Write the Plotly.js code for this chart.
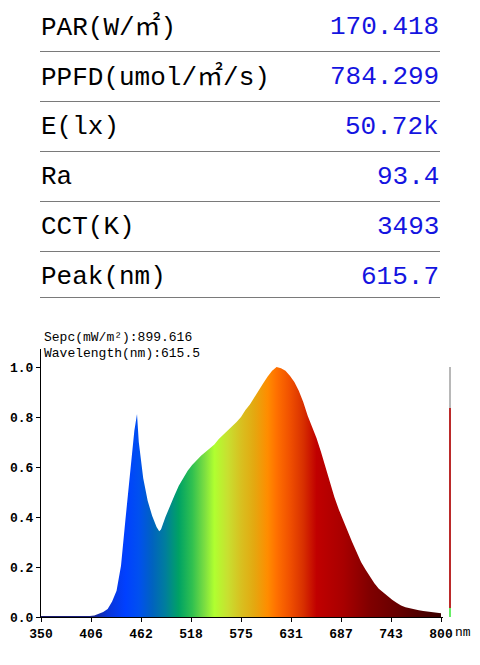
<!DOCTYPE html>
<html><head><meta charset="utf-8">
<script src="https://cdn.plot.ly/plotly-3.0.1.min.js"></script>
<style>html,body{margin:0;padding:0;background:#fff}</style>
</head><body><div id="chart" style="width:480px;height:665px"></div>
<script>
// ---- data ----
const metricLabels = ['PAR(W/㎡)', 'PPFD(umol/㎡/s)', 'E(lx)', 'Ra', 'CCT(K)', 'Peak(nm)'];
const metricValues = ['170.418', '784.299', '50.72k', '93.4', '3493', '615.7'];

const sepcValue = '899.616';
const peakWavelength = '615.5';

const wavelengths = [350,355,360,365,370,375,380,385,390,395,400,405,410,415,420,425,430,435,440,445,450,455,458,460,465,470,475,480,483,485,490,495,500,505,510,515,520,525,530,535,540,545,550,555,560,565,570,575,580,585,590,595,600,605,610,615,620,625,630,635,640,645,650,655,660,665,670,675,680,685,690,695,700,705,710,715,720,725,730,735,740,745,750,755,760,765,770,775,780,785,790,795,800];
const intensity =   [0.004,0.004,0.004,0.004,0.004,0.003,0.002,0.001,0.002,0.002,0.003,0.004,0.006,0.012,0.020,0.032,0.062,0.105,0.205,0.390,0.570,0.745,0.812,0.700,0.555,0.465,0.405,0.360,0.343,0.350,0.400,0.445,0.485,0.525,0.558,0.585,0.608,0.628,0.645,0.660,0.675,0.690,0.712,0.728,0.745,0.762,0.780,0.800,0.828,0.850,0.880,0.910,0.935,0.962,0.985,1.000,0.995,0.985,0.965,0.940,0.905,0.860,0.805,0.760,0.715,0.660,0.600,0.537,0.480,0.430,0.385,0.342,0.300,0.260,0.220,0.190,0.162,0.135,0.113,0.097,0.082,0.069,0.057,0.046,0.039,0.034,0.030,0.027,0.024,0.021,0.018,0.016,0.015];

const colorStopNm  = [350, 405, 425, 445, 460, 475, 490, 505, 520, 535, 545, 560, 575, 590, 605, 615, 630, 645, 660, 690, 720, 750, 800];
const colorStopHex = ['#1a1a66','#1a2080','#0a34d8','#0040ff','#0050f0','#0062c0','#007e9c','#00a264','#30c050','#80e040','#b0ff30','#c8e030','#d8c020','#e4a810','#ff8c00','#ff7000','#f05000','#d83000','#c00000','#a80000','#800000','#680000','#3a0000'];

const xTickVals = [350, 406.25, 462.5, 518.75, 575, 631.25, 687.5, 743.75, 800];
const xTickText = ['350','406','462','518','575','631','687','743','800'];
const yTickVals = [0, 0.2, 0.4, 0.6, 0.8, 1.0];

const indicatorSegments = ['low', 'level', 'rest'];
const indicatorValues = [0.035, 0.8, 0.165];
const indicatorColors = ['#66ee66', '#bb2a2a', '#b8b8b8'];

// ---- build ----
const W = 480, H = 665;
const px = v => v / W;
const py = v => 1 - v / H;

const colorscale = colorStopNm.map((nm, i) => [(nm - 350) / 450, colorStopHex[i]]);

const traces = [{
  type: 'scatter', mode: 'lines',
  x: wavelengths, y: intensity,
  line: {width: 0, color: 'rgba(0,0,0,0)'},
  fill: 'tozeroy',
  fillgradient: {type: 'horizontal', start: 350, stop: 800, colorscale: colorscale},
  hoverinfo: 'skip', xaxis: 'x', yaxis: 'y'
}];
indicatorSegments.forEach((name, i) => {
  traces.push({
    type: 'bar', x: [0], y: [indicatorValues[i]], name: name, width: 0.5,
    marker: {color: indicatorColors[i], line: {width: 0}},
    xaxis: 'x2', yaxis: 'y', hoverinfo: 'skip'
  });
});

const rowCenters = metricLabels.map((_, i) => 27 + 50 * i);
const rowLines = metricLabels.map((_, i) => i < metricLabels.length - 1 ? 51 + 50 * i : 297);

const tableFont = 'Liberation Mono, Noto Sans CJK SC, monospace';
const annotations = [];
metricLabels.forEach((lab, i) => {
  annotations.push({xref: 'paper', yref: 'paper', x: px(39), y: py(rowCenters[i]), xanchor: 'left', yanchor: 'middle',
    text: lab, showarrow: false, font: {family: tableFont, size: 26, color: '#000'}});
  annotations.push({xref: 'paper', yref: 'paper', x: px(441), y: py(rowCenters[i]), xanchor: 'right', yanchor: 'middle',
    text: metricValues[i], showarrow: false, font: {family: tableFont, size: 26, color: '#1414e0'}});
});
annotations.push({xref: 'paper', yref: 'paper', x: px(42), y: py(337), xanchor: 'left', yanchor: 'middle',
  text: 'Sepc(mW/m²):' + sepcValue, showarrow: false, font: {family: 'Liberation Mono, monospace', size: 13, color: '#000'}});
annotations.push({xref: 'paper', yref: 'paper', x: px(42), y: py(353), xanchor: 'left', yanchor: 'middle',
  text: 'Wavelength(nm):' + peakWavelength, showarrow: false, font: {family: 'Liberation Mono, monospace', size: 13, color: '#000'}});
annotations.push({xref: 'paper', yref: 'paper', x: px(453), y: py(632), xanchor: 'left', yanchor: 'middle',
  text: 'nm', showarrow: false, font: {family: 'Liberation Mono, monospace', size: 13, color: '#000'}});

const shapes = rowLines.map(y => ({type: 'line', xref: 'paper', yref: 'paper',
  x0: px(40), x1: px(440), y0: py(y + 0.5), y1: py(y + 0.5), line: {color: '#7a7a7a', width: 1}}));

const tickFont = {family: 'Liberation Mono, monospace', size: 13, color: '#000', weight: 'bold'};
const layout = {
  width: W, height: H,
  margin: {l: 0, r: 0, t: 0, b: 0},
  paper_bgcolor: '#fff', plot_bgcolor: '#fff',
  showlegend: false, barmode: 'stack',
  xaxis: {domain: [px(41), px(442.8)], range: [350, 802], showgrid: false, zeroline: false,
    showline: true, linecolor: '#000', linewidth: 1, ticks: 'outside', ticklen: 4, tickcolor: '#000',
    tickvals: xTickVals, ticktext: xTickText, tickfont: tickFont, fixedrange: true},
  yaxis: {domain: [1 - 617 / H, 1 - 349 / H], range: [0, 1.072], showgrid: false, zeroline: false,
    showline: true, linecolor: '#000', linewidth: 1, ticks: 'outside', ticklen: 4, tickcolor: '#000',
    tickvals: yTickVals, tickformat: '.1f', tickfont: tickFont, fixedrange: true},
  xaxis2: {domain: [px(448), px(452)], range: [-0.5, 0.5], anchor: 'y', visible: false, fixedrange: true},
  annotations: annotations,
  shapes: shapes
};

Plotly.newPlot('chart', traces, layout, {displayModeBar: false, staticPlot: true});
</script>
</body></html>
